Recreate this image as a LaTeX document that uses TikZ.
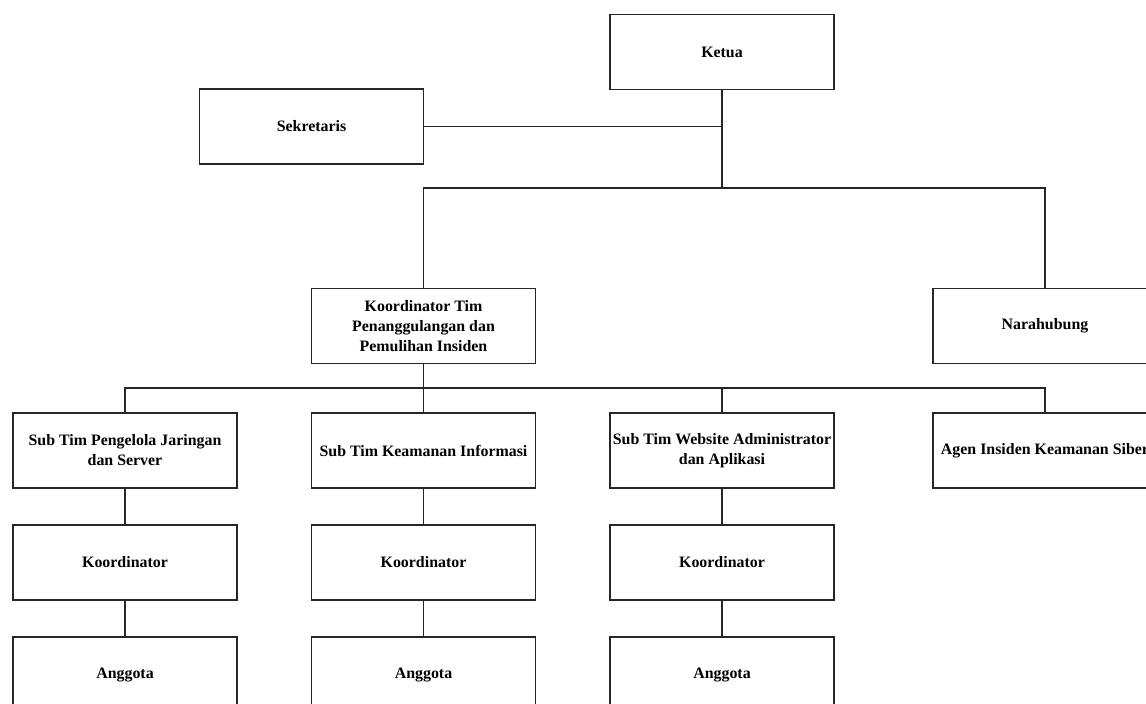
\documentclass[tikz,border=0pt]{standalone}
\usepackage{fontspec}
\setmainfont{Liberation Serif}
\begin{document}
\begin{tikzpicture}[x=1pt,y=-1pt,
  box/.style={draw=black!85, line width=1.1pt, rectangle, minimum width=224pt, minimum height=75pt, align=center, inner sep=0pt, font=\fontsize{15.9}{20}\selectfont\bfseries},
  conn/.style={draw=black!85, line width=1.1pt}]
\useasboundingbox (0,0) rectangle (1146,704);
\fill[white] (0,0) rectangle (1146,704);
\clip (0,0) rectangle (1146,704);
\node[box] (ketua) at (722,52) {Ketua};
\node[box] (sek) at (311.5,126.5) {Sekretaris};
\node[box] (koord) at (423.5,326) {Koordinator Tim\\Penanggulangan dan\\Pemulihan Insiden};
\node[box] (nara) at (1045,326) {Narahubung};
\node[box] (s1) at (125,450.5) {Sub Tim Pengelola Jaringan\\dan Server};
\node[box] (s2) at (423.5,450.5) {Sub Tim Keamanan Informasi};
\node[box] (s3) at (722,450.5) {Sub Tim Website Administrator\\dan Aplikasi};
\node[box] (s4) at (1045,450.5) {Agen Insiden Keamanan Siber};
\node[box] (k1) at (125,562.5) {Koordinator};
\node[box] (k2) at (423.5,562.5) {Koordinator};
\node[box] (k3) at (722,562.5) {Koordinator};
\node[box] (a1) at (125,674.5) {Anggota};
\node[box] (a2) at (423.5,674.5) {Anggota};
\node[box] (a3) at (722,674.5) {Anggota};
\coordinate (b1) at (722,188);
\coordinate (b2) at (423.5,388);
\draw[conn] (ketua.south) -- (b1);
\draw[conn] (sek.east) -- (sek.east -| ketua.south);
\draw[conn] (koord.north) |- (b1) -| (nara.north);
\draw[conn] (koord.south) -- (s2.north);
\draw[conn] (s1.north) |- (b2) -| (s4.north);
\draw[conn] (s3.north) -- (s3.north |- b2);
\draw[conn] (s1.south) -- (k1.north);
\draw[conn] (s2.south) -- (k2.north);
\draw[conn] (s3.south) -- (k3.north);
\draw[conn] (k1.south) -- (a1.north);
\draw[conn] (k2.south) -- (a2.north);
\draw[conn] (k3.south) -- (a3.north);
\end{tikzpicture}
\end{document}
